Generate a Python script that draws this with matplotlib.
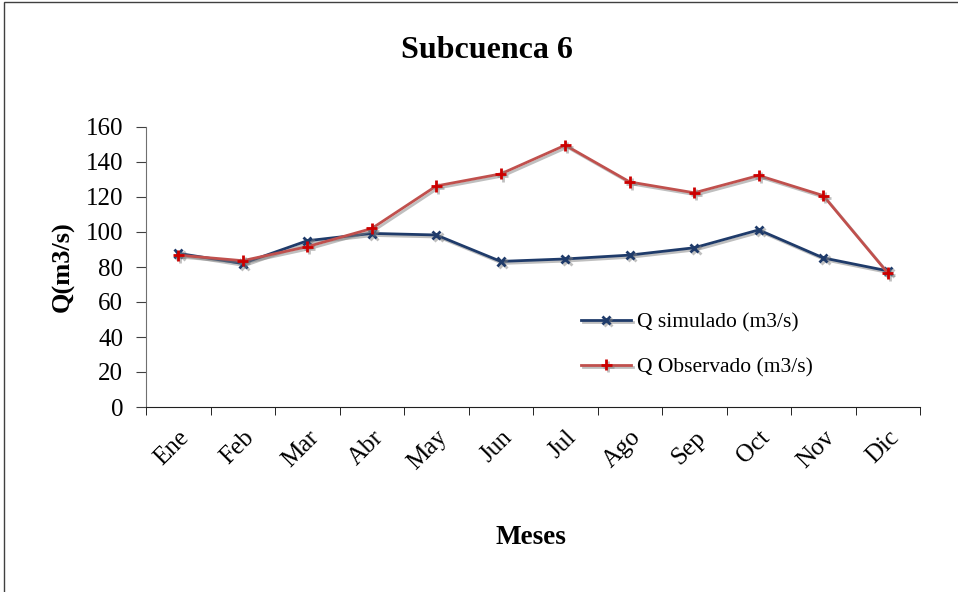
import matplotlib
matplotlib.use('Agg')
import matplotlib.pyplot as plt
import matplotlib.patheffects as pe
from matplotlib.patches import Rectangle
import numpy as np

meses = ['Ene', 'Feb', 'Mar', 'Abr', 'May', 'Jun', 'Jul', 'Ago', 'Sep', 'Oct', 'Nov', 'Dic']
q_simulado = [87.8, 82.0, 95.0, 99.2, 98.3, 83.2, 84.6, 86.8, 91.0, 101.2, 85.2, 77.8]
q_observado = [86.8, 83.6, 91.6, 102.0, 126.3, 133.2, 149.6, 128.6, 122.4, 132.3, 120.8, 76.6]

plt.rcParams['font.family'] = ['Liberation Serif', 'DejaVu Serif']

fig = plt.figure(figsize=(9.58, 5.92), dpi=100)
ax = fig.add_axes([146/958, 1 - 407/592, (920 - 146)/958, (407 - 127)/592])

# marco del grafico
fig.patches.append(Rectangle((4/958, -0.1), 1.1, 1.1 - 2/592, transform=fig.transFigure,
                             fill=False, edgecolor='#404040', linewidth=1.0))

x = np.arange(len(meses))
sombra = [pe.SimpleLineShadow(offset=(1.5, -1.5), shadow_color='gray', alpha=0.5), pe.Normal()]

ax.plot(x, q_simulado, color='#1f3b6a', linewidth=2, marker='x', markersize=6, markeredgewidth=2,
        markeredgecolor='#1f3b6a', label='Q simulado (m3/s)', path_effects=sombra)
ax.plot(x, q_observado, color='#c0504d', linewidth=2, marker='+', markersize=8, markeredgewidth=2,
        markeredgecolor='#cc0000', label='Q Observado (m3/s)', path_effects=sombra)

ax.set_xlim(-0.5, 11.5)
ax.set_ylim(0, 160)
ax.set_yticks(range(0, 161, 20))
ax.set_xticks(x)
ax.set_xticklabels(meses, rotation=45, ha='right', rotation_mode='anchor', fontsize=18)
ax.set_xticks(np.arange(-0.5, 12, 1), minor=True)
ax.tick_params(axis='x', which='major', length=0, pad=14)
ax.tick_params(axis='x', which='minor', length=6, direction='out', color='black')
ax.tick_params(axis='y', length=7, direction='out', labelsize=18, pad=9.5, color='#404040')

for s in ['top', 'right']:
    ax.spines[s].set_visible(False)
ax.spines['left'].set_color('#707070')
ax.spines['bottom'].set_color('#202020')

ax.set_ylabel('Q(m3/s)', fontsize=19, fontweight='bold', labelpad=8)
fig.text(531/958, 1 - 537/592, 'Meses', fontsize=19.5, fontweight='bold', ha='center', va='center')
fig.text(487/958, 1 - 50/592, 'Subcuenca 6', fontsize=23, fontweight='bold', ha='center', va='center')

ax.legend(loc='upper left', bbox_to_anchor=(562/958, 1 - 293/592), bbox_transform=fig.transFigure,
          frameon=False, fontsize=15.5, labelspacing=1.15, handlelength=2.3, handletextpad=0.3)

fig.savefig('out.png', dpi=100)
